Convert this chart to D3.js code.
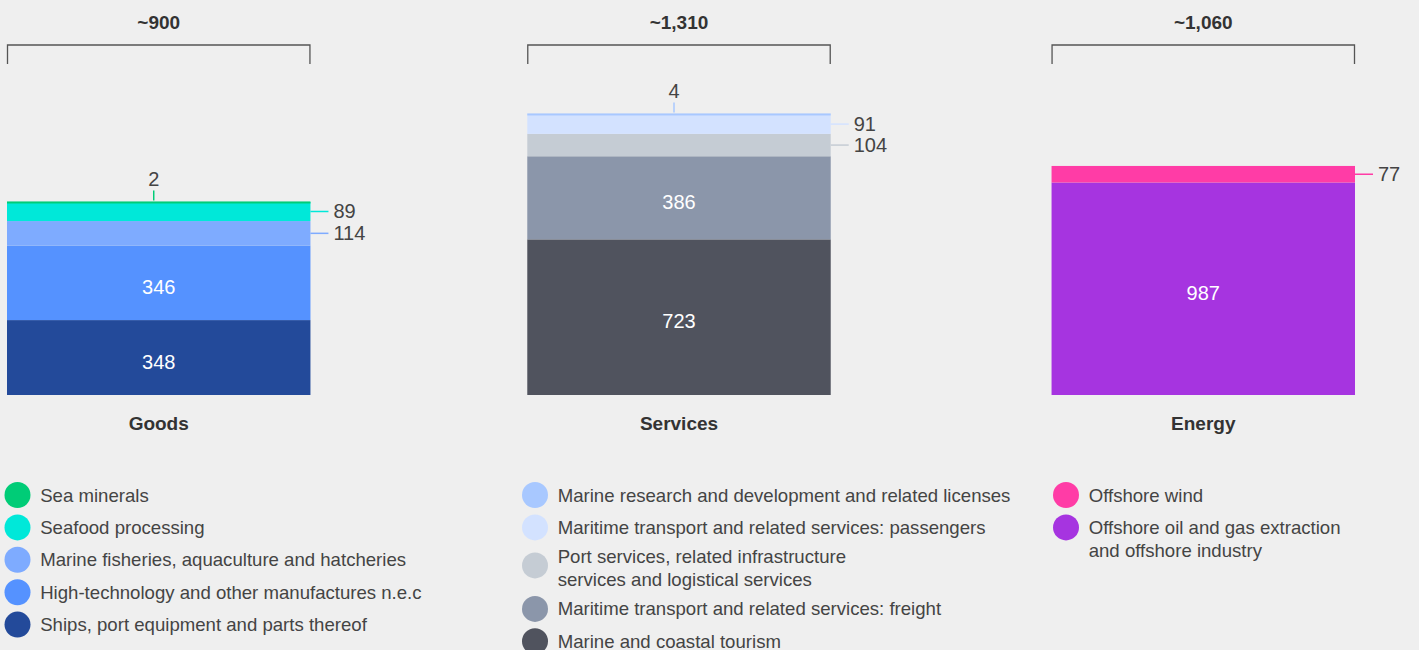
<!DOCTYPE html>
<html>
<head>
<meta charset="utf-8">
<script src="https://cdn.jsdelivr.net/npm/d3@7"></script>
<style>
  html, body { margin: 0; padding: 0; background: #efefef; }
  svg { display: block; font-family: "Liberation Sans", Arial, sans-serif; }
</style>
</head>
<body>
<div id="chart"></div>
<script>
// Categories and their rounded totals
const categories = ["Goods", "Services", "Energy"];
const totals = ["~900", "~1,310", "~1,060"];

// Segments, listed top of stack first (same order as the legend)
const goodsNames = ["Sea minerals", "Seafood processing", "Marine fisheries, aquaculture and hatcheries",
  "High-technology and other manufactures n.e.c", "Ships, port equipment and parts thereof"];
const goodsValues = [2, 89, 114, 346, 348];
const goodsColors = ["#00cc77", "#00e8d9", "#7eabff", "#5592ff", "#234a9a"];

const servicesNames = ["Marine research and development and related licenses",
  "Maritime transport and related services: passengers",
  "Port services, related infrastructure\nservices and logistical services",
  "Maritime transport and related services: freight", "Marine and coastal tourism"];
const servicesValues = [4, 91, 104, 386, 723];
const servicesColors = ["#a8c8ff", "#d3e2ff", "#c5ccd4", "#8b96aa", "#50535e"];

const energyNames = ["Offshore wind", "Offshore oil and gas extraction\nand offshore industry"];
const energyValues = [77, 987];
const energyColors = ["#ff3ca6", "#a634e0"];

const groups = [
  { names: goodsNames, values: goodsValues, colors: goodsColors, dotX: 17.5, dotMid: true },
  { names: servicesNames, values: servicesValues, colors: servicesColors, dotX: 535, dotMid: true },
  { names: energyNames, values: energyValues, colors: energyColors, dotX: 1066, dotMid: false }
];

const W = 1419, H = 650;
const svg = d3.select("#chart").append("svg").attr("width", W).attr("height", H);
svg.append("rect").attr("width", W).attr("height", H).attr("fill", "#efefef");

const x = d3.scaleBand().domain(categories).range([7, 1355]).paddingInner(0.419).paddingOuter(0);
const y = d3.scaleLinear().domain([0, 1310]).range([395, 113]);
const textColor = "#444";

groups.forEach((g, gi) => {
  const cat = categories[gi];
  const x0 = gi === 1 ? x(cat) - 2 : x(cat), bw = x.bandwidth(), cx = x0 + bw / 2;
  const layer = svg.append("g");

  // stack from the bottom (last entry) upward
  let acc = 0;
  const segs = [];
  for (let i = g.values.length - 1; i >= 0; i--) {
    const v = g.values[i];
    segs.push({ i, v, y0: acc, y1: acc + v });
    acc += v;
  }

  segs.forEach(s => {
    const top = y(s.y1), bot = y(s.y0);
    layer.append("rect")
      .attr("x", x0).attr("y", top)
      .attr("width", bw).attr("height", Math.max(bot - top, 2))
      .attr("fill", g.colors[s.i]);
  });

  segs.forEach(s => {
    const top = y(s.y1), bot = y(s.y0), mid = (top + bot) / 2;
    const h = bot - top;
    if (h > 40) {
      layer.append("text").attr("x", cx).attr("y", mid + 4).attr("dy", "0.35em")
        .attr("text-anchor", "middle").attr("fill", "#fff").attr("font-size", 20)
        .text(s.v);
    } else if (h > 4) {
      layer.append("line").attr("x1", x0 + bw).attr("x2", x0 + bw + 18)
        .attr("y1", mid).attr("y2", mid).attr("stroke", g.colors[s.i]).attr("stroke-width", 1.5);
      layer.append("text").attr("x", x0 + bw + 23).attr("y", mid).attr("dy", "0.35em")
        .attr("fill", textColor).attr("font-size", 20).text(s.v);
    } else {
      // tiny segment on top: label above with a tick
      const t = y(s.y1) - 1;
      layer.append("line").attr("x1", cx - 5).attr("x2", cx - 5)
        .attr("y1", t).attr("y2", t - 10).attr("stroke", g.colors[s.i]).attr("stroke-width", 1.5);
      layer.append("text").attr("x", cx - 5).attr("y", t - 21).attr("dy", "0.35em")
        .attr("text-anchor", "middle").attr("fill", textColor).attr("font-size", 20).text(s.v);
    }
  });

  // bracket and total
  layer.append("path")
    .attr("d", `M${x0 + 0.5},64V45H${x0 + bw - 0.5}V64`)
    .attr("fill", "none").attr("stroke", "#555").attr("stroke-width", 1.3);
  layer.append("text").attr("x", cx).attr("y", 22).attr("dy", "0.35em")
    .attr("text-anchor", "middle").attr("fill", "#333").attr("font-size", 19)
    .attr("font-weight", "bold").text(totals[gi]);

  // category label
  layer.append("text").attr("x", cx).attr("y", 423).attr("dy", "0.35em")
    .attr("text-anchor", "middle").attr("fill", "#333").attr("font-size", 19)
    .attr("font-weight", "bold").text(cat);

  // legend
  const lg = svg.append("g");
  let ly = 495, prevLines = 1;
  g.names.forEach((name, i) => {
    const lines = name.split("\n");
    if (i > 0) ly += (g.dotMid && (prevLines > 1 || lines.length > 1)) ? 29.5 : 32.4;
    const dotY = (!g.dotMid || lines.length === 1) ? ly : ly + 8.5;
    lg.append("circle").attr("cx", g.dotX).attr("cy", dotY).attr("r", 13)
      .attr("fill", g.colors[i]);
    lines.forEach((ln, k) => {
      lg.append("text").attr("x", g.dotX + 22.7).attr("y", ly + k * 23).attr("dy", "0.35em")
        .attr("fill", textColor).attr("font-size", 18.6).text(ln);
    });
    ly += (lines.length - 1) * 22.5;
    prevLines = lines.length;
  });
});
</script>
</body>
</html>
